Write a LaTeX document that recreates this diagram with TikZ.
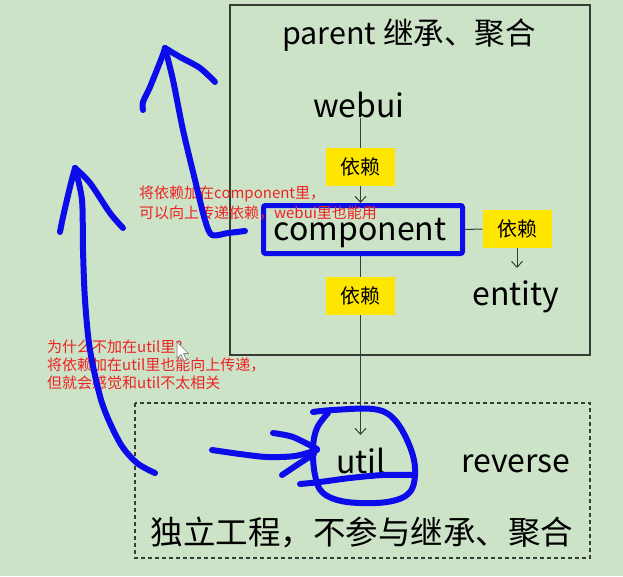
\documentclass[tikz,border=0pt]{standalone}
\usepackage{fontspec}
\setmainfont{Noto Sans CJK SC}
\usetikzlibrary{arrows.meta}
\definecolor{bg}{RGB}{205,227,200}
\definecolor{ylw}{RGB}{255,230,0}
\definecolor{redtxt}{RGB}{238,34,34}
\definecolor{pen}{RGB}{12,12,235}
\definecolor{ln}{RGB}{55,60,55}
\begin{document}
\begin{tikzpicture}[x=1pt,y=-1pt,
 dep/.style={fill=ylw, minimum width=69pt, minimum height=38pt, inner sep=0pt, font=\fontsize{20}{24}\selectfont},
 big/.style={font=\fontsize{32}{38}\selectfont, inner sep=0pt, anchor=base},
 conn/.style={draw=ln, line width=1pt},
 arr/.style={conn, -{Straight Barb[length=6pt,width=11pt]}},
 note/.style={text=redtxt, font=\fontsize{15}{18}\selectfont, anchor=base west, inner sep=0pt},
 ink/.style={draw=pen, line width=6pt, line cap=round, line join=round}]
\fill[bg] (0,0) rectangle (623,576);
\useasboundingbox (0,0) rectangle (623,576);
% frames
\draw[ln, line width=1.3pt] (230,5) rectangle (590,355);
\draw[ln, line width=1.2pt, dash pattern=on 4pt off 3pt] (135,403) rectangle (590,558);
% texts and boxes
\node[big, font=\fontsize{30.5}{36}\selectfont] (title) at (409,44) {parent 继承、聚合};
\node[big] (webui) at (359,117) {webui};
\node[dep] (d1) at (360.5,167) {依赖};
\node[draw=pen, line width=5pt, rounded corners=2pt, minimum width=199pt, minimum height=48pt, inner sep=0pt] (comp) at (363,229.5) {};
\node[big] (comptext) at (360,240) {component};
\node[dep] (d2) at (517,229) {依赖};
\node[big] (entity) at (516,305) {entity};
\node[dep] (d3) at (360.5,296) {依赖};
\node[big] (util) at (361,473) {util};
\node[big] (reverse) at (516,472) {reverse};
\node[font=\fontsize{32.5}{40}\selectfont, inner sep=0pt, anchor=base] (indep) at (362,544) {独立工程，不参与继承、聚合};
\coordinate (eTop) at (517,268);
\coordinate (uTop) at (360.5,435);
% connectors
\draw[conn] (d1.north |- webui.south) -- (d1.north);
\draw[arr] (d1.south) -- (d1.south |- comp.north);
\draw[conn] (comp.east) -- (d2.west);
\draw[arr] (d2.south) -- (eTop);
\draw[conn] (d3.north |- comp.south) -- (d3.north);
\draw[arr] (d3.south) -- (uTop);
% red notes
\node[note] (n1a) at (139,198.5) {将依赖加在component里，};
\node[note] (n1b) at (139,218) {可以向上传递依赖，webui里也能用};
\node[note] (n2a) at (47,352.5) {为什么不加在util里?};
\node[note] (n2b) at (47,370.5) {将依赖加在util里也能向上传递，};
\node[note] (n2c) at (47,388.5) {但就会感觉和util不太相关};
% mouse cursor
\draw[fill=white, draw=gray, line width=0.6pt] (177,342) -- (177,358) -- (181,354.5) -- (184,361) -- (186.5,360) -- (183.5,353.5) -- (188.5,353.5) -- cycle;
% blue freehand strokes
\draw[ink] plot[smooth, tension=0.5] coordinates {(245,231) (228,233) (212,235) (205,220) (195,180) (183,130) (173,80) (165,48)};
\draw[ink] plot[smooth, tension=0.5] coordinates {(165,48) (162,57) (150,87) (143,102) (143,110)};
\draw[ink] plot[smooth, tension=0.5] coordinates {(165,48) (180,57) (200,68) (215,82)};
\draw[ink] plot[smooth, tension=0.5] coordinates {(155,473) (137,463) (120,443) (102,403) (90,350) (85,300) (83,250) (82,200) (75,168)};
\draw[ink] plot[smooth, tension=0.5] coordinates {(75,168) (70,187) (63,217) (60,232)};
\draw[ink] plot[smooth, tension=0.5] coordinates {(75,168) (90,183) (110,213) (123,228)};
\draw[ink] plot[smooth, tension=0.5] coordinates {(212,450) (240,454) (267,457) (295,456) (317,450)};
\draw[ink] plot[smooth, tension=0.5] coordinates {(273,433) (293,437) (317,449)};
\draw[ink] plot[smooth, tension=0.5] coordinates {(282,475) (300,463) (314,454)};
\draw[ink] plot[smooth, tension=0.6] coordinates {(313,412) (333,410) (373,409) (393,418) (408,442) (415,468) (410,492) (387,502) (347,502) (323,493) (315,475) (313,448) (317,428) (328,413)};
\draw[ink] plot[smooth, tension=0.5] coordinates {(300,484) (320,482) (350,478) (383,475) (413,475)};
\end{tikzpicture}
\end{document}
